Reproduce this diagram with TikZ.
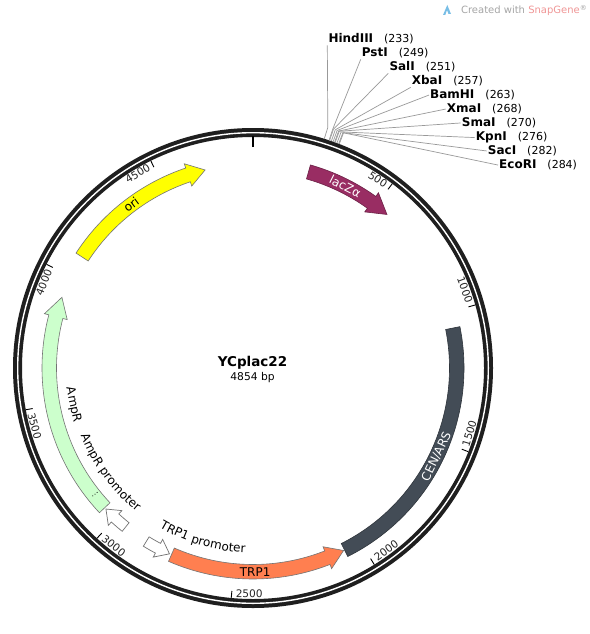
\documentclass[tikz,border=0pt]{standalone}
\usepackage{fontspec}
\setmainfont{DejaVu Sans}
\usetikzlibrary{calc,decorations.text}
\definecolor{oriyellow}{RGB}{255,255,0}
\definecolor{laczcol}{RGB}{153,45,99}
\definecolor{cencol}{RGB}{67,76,86}
\definecolor{trpcol}{RGB}{255,127,80}
\definecolor{ampcol}{RGB}{204,255,204}
\definecolor{snapred}{RGB}{240,150,150}
\definecolor{iconblue}{RGB}{120,190,230}
\tikzset{
  ringline/.style={line width=9pt, draw=black!88},
  ringgap/.style={line width=1.4pt, draw=white},
  tickline/.style={line width=0.9pt, draw=black},
  ticklabel/.style={font=\fontsize{10.5}{12}\selectfont, inner sep=0pt, text=black!85},
  featlabel/.style={font=\fontsize{12}{14}\selectfont, inner sep=0pt},
  enzline/.style={draw=black!40, line width=0.7pt},
  enzlabel/.style={inner sep=1pt, anchor=base west},
  featborder/.style={draw=black!55, line width=0.6pt},
  promborder/.style={draw=black!55, line width=0.7pt, fill=white},
}
% clockwise/counterclockwise arc arrow: #1 start angle, #2 head base, #3 tip (degrees clockwise from top)
\newcommand{\featarrow}[4]{%
  \draw[#4] ($(C)+({90-(#1)}:211pt)$) arc[start angle={90-(#1)}, end angle={90-(#2)}, radius=211pt]
    -- ($(C)+({90-(#2)}:215.5pt)$) -- ($(C)+({90-(#3)}:203.75pt)$) -- ($(C)+({90-(#2)}:192pt)$)
    -- ($(C)+({90-(#2)}:196.5pt)$) arc[start angle={90-(#2)}, end angle={90-(#1)}, radius=196.5pt] -- cycle;}
\newcommand{\promarrow}[3]{%
  \draw[promborder] ($(C)+({90-(#1)}:209.25pt)$) arc[start angle={90-(#1)}, end angle={90-(#2)}, radius=209.25pt]
    -- ($(C)+({90-(#2)}:213.75pt)$) -- ($(C)+({90-(#3)}:203.75pt)$) -- ($(C)+({90-(#2)}:193.75pt)$)
    -- ($(C)+({90-(#2)}:198.25pt)$) arc[start angle={90-(#2)}, end angle={90-(#1)}, radius=198.25pt] -- cycle;}
\begin{document}
\begin{tikzpicture}[x=1pt,y=1pt]
\useasboundingbox (0,0) rectangle (589,-634);
\fill[white] (0,0) rectangle (589,-634);
\coordinate (C) at (253,-368);

% backbone ring
\draw[ringline] (C) circle[radius=235.5pt];
\draw[ringgap] (C) circle[radius=235.3pt];
\draw[line width=2.5pt] ($(C)+(90:221pt)$) -- ($(C)+(90:232pt)$);

% scale ticks and numbers
\foreach \p in {500,1000,...,4500}{
  \pgfmathsetmacro\th{\p/4854*360}
  \pgfmathsetmacro\dl{ifthenelse(\p<1000,3.55,4.44)}
  \pgfmathsetmacro\tc{\th-\dl}
  \pgfmathsetmacro\rot{ifthenelse(and(\tc>90,\tc<270),180-\tc,-\tc)}
  \draw[tickline] ($(C)+({90-\th}:231pt)$) -- ($(C)+({90-\th}:224pt)$);
  \node[ticklabel, rotate=\rot] (t\p) at ($(C)+({90-\tc}:226pt)$) {\p};
}

% restriction sites
\foreach \nm/\ps/\lx/\ly/\an in {HindIII/233/327.3/42.7/south west, PstI/249/360.7/56.7/south west,
  SalI/251/388.3/70.7/south west, XbaI/257/410.7/84.7/south west, BamHI/263/429/98.7/west,
  XmaI/268/445.7/112.7/west, SmaI/270/460.7/126.7/west, KpnI/276/474.7/140.7/west,
  SacI/282/486.7/154.7/west, EcoRI/284/498/168.7/west}{
  \pgfmathsetmacro\th{\ps/4854*360}
  \node[enzlabel] (e\nm) at (\lx,-\ly)
    {{\fontsize{12}{14}\selectfont\bfseries \nm}\hspace{11pt}{\fontsize{11}{13}\selectfont(\ps)}};
  \draw[enzline] ($(C)+({90-\th}:240pt)$) -- ($(C)+({90-\th}:252pt)$) -- (e\nm.\an);
}

% features
\featarrow{303}{341.4}{346.4}{featborder, fill=oriyellow}
\featarrow{15.8}{35.6}{41.1}{draw=laczcol!70!black, line width=0.6pt, fill=laczcol}
\draw[draw=cencol!70!black, line width=0.6pt, fill=cencol]
  ($(C)+(11.3:211pt)$) arc[start angle=11.3, end angle=-63.3, radius=211pt]
  -- ($(C)+(-63.3:196.5pt)$) arc[start angle=-63.3, end angle=11.3, radius=196.5pt] -- cycle;
\featarrow{203.6}{158.6}{153.6}{featborder, fill=trpcol}
\featarrow{226.7}{284.6}{290.3}{featborder, fill=ampcol}
\draw[dotted, line width=0.8pt] ($(C)+({90-231.4}:199pt)$) -- ($(C)+({90-231.4}:207pt)$);
\promarrow{218.7}{222.6}{226.2}
\promarrow{211.6}{207.8}{204.2}

% feature labels
\node[featlabel, rotate=36.7] (lori) at ($(C)+({90-323.3}:203.75pt)$) {ori};
\node[featlabel, text=white, rotate=-26.9] (llac) at ($(C)+({90-26.9}:203.75pt)$) {lacZα};
\node[featlabel, text=white, rotate=64.2] (lcen) at ($(C)+({90-115.8}:203.75pt)$) {CEN/ARS};
\node[featlabel, rotate=0.6] (ltrp) at ($(C)+({90-179.4}:203.75pt)$) {TRP1};
\node[featlabel, rotate=-78.4] (lamp) at ($(C)+({90-258.4}:183.6pt)$) {AmpR};
\path[decorate, decoration={text along path, text align=center,
    text={|\fontsize{12}{14}\selectfont|AmpR promoter}}]
  ($(C)+({90-253.8}:185pt)$) arc[start angle={90-253.8}, end angle={90-213.8}, radius=185pt];
\path[decorate, decoration={text along path, text align=center,
    text={|\fontsize{12}{14}\selectfont|TRP1 promoter}}]
  ($(C)+({90-216.4}:185pt)$) arc[start angle={90-216.4}, end angle={90-176.4}, radius=185pt];

% centre title
\node[anchor=base, font=\fontsize{13.5}{16}\selectfont\bfseries, inner sep=0pt] (title) at (252.5,-366.7) {YCplac22};
\node[anchor=base, font=\fontsize{10.7}{13}\selectfont, inner sep=0pt] (size) at (252.5,-380.3) {4854 bp};

% watermark
\fill[iconblue] (443,-15) -- (447.3,-5) -- (451,-14) -- (448.5,-14) -- (447,-10) -- (445.3,-15) -- cycle;
\node[anchor=base east, font=\fontsize{10}{12}\selectfont, text=black!35, inner sep=0pt] (wm) at (587,-13.5)
  {Created with \textcolor{snapred}{SnapGene}{\fontsize{7}{8}\selectfont\raisebox{3pt}{®}}};
\end{tikzpicture}
\end{document}
